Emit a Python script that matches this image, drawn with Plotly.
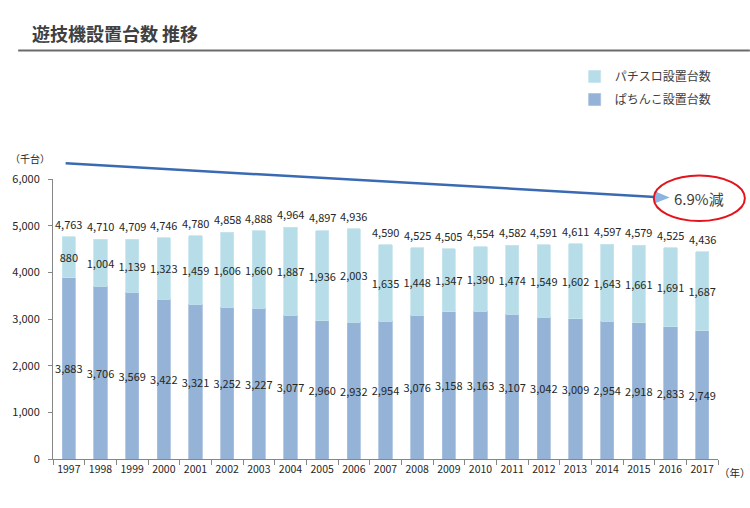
import plotly.graph_objects as go

years = [str(y) for y in range(1997, 2018)]
pachinko = [3883, 3706, 3569, 3422, 3321, 3252, 3227, 3077, 2960, 2932, 2954,
            3076, 3158, 3163, 3107, 3042, 3009, 2954, 2918, 2833, 2749]
pachislot = [880, 1004, 1139, 1323, 1459, 1606, 1660, 1887, 1936, 2003, 1635,
             1448, 1347, 1390, 1474, 1549, 1602, 1643, 1661, 1691, 1687]
totals = [4763, 4710, 4709, 4746, 4780, 4858, 4888, 4964, 4897, 4936, 4590,
          4525, 4505, 4554, 4582, 4591, 4611, 4597, 4579, 4525, 4436]
yticks = [0, 1000, 2000, 3000, 4000, 5000, 6000]

FONT = "Noto Sans CJK JP, Noto Sans, sans-serif"
TXT = "#262626"
C_PACHINKO = "#95b3d7"
C_PACHISLOT = "#b7dee8"

W, H = 750, 508
ML, MR, MT, MB = 50, 32, 179, 49
PW, PH = W - ML - MR, H - MT - MB


def px(x):
    return (x - ML) / PW


def py(y):
    return (H - MB - y) / PH


fmt = lambda v: f"{v:,}"

fig = go.Figure()
fig.add_trace(go.Bar(
    x=years, y=pachinko, name="ぱちんこ設置台数",
    marker=dict(color=C_PACHINKO, line=dict(color="#a9c1df", width=0.8)),
    text=[fmt(v) for v in pachinko], textposition="inside",
    insidetextanchor="middle", constraintext="none", textangle=0,
    textfont=dict(family=FONT, size=11, color=TXT),
    legendgroup="a", legendrank=2,
))
fig.add_trace(go.Bar(
    x=years, y=pachislot, name="パチスロ設置台数",
    marker=dict(color=C_PACHISLOT, line=dict(color="#c6e5ee", width=0.8)),
    text=[fmt(v) for v in pachislot], textposition="inside",
    insidetextanchor="middle", constraintext="none", textangle=0,
    textfont=dict(family=FONT, size=11, color=TXT),
    legendgroup="b", legendrank=1,
))

shapes = [
    # title underline
    dict(type="line", xref="paper", yref="paper", x0=px(15), x1=px(750),
         y0=py(50.5), y1=py(50.5), line=dict(color="#6b6b6b", width=2)),
    # trend line
    dict(type="line", xref="paper", yref="paper", x0=px(62.7), y0=py(163.3),
         x1=px(655), y1=py(196.9), line=dict(color="#3a6ab3", width=2.5)),
    # arrow head
    dict(type="path", xref="paper", yref="paper",
         path=f"M {px(654)},{py(191)} L {px(669.5)},{py(197.5)} L {px(654)},{py(203.5)} Z",
         fillcolor="#8db3e2", line=dict(width=0)),
    # red ellipse
    dict(type="circle", xref="paper", yref="paper", x0=px(653.5), x1=px(745),
         y0=py(221), y1=py(175.5), line=dict(color="#e3141b", width=2)),
]

annotations = [
    dict(text="<b>遊技機設置台数 推移</b>", xref="paper", yref="paper",
         x=px(27), y=py(33), xanchor="left", yanchor="middle", showarrow=False,
         font=dict(family=FONT, size=18, color="#404040")),
    dict(text="6.9%減", xref="paper", yref="paper", x=px(699), y=py(198),
         xanchor="center", yanchor="middle", showarrow=False,
         font=dict(family=FONT, size=15, color="#404040")),
    dict(text="（千台）", xref="paper", yref="paper", x=px(27), y=py(158),
         xanchor="center", yanchor="middle", showarrow=False,
         font=dict(family=FONT, size=10, color=TXT)),
    dict(text="（年）", xref="paper", yref="paper", x=px(735), y=py(472),
         xanchor="center", yanchor="middle", showarrow=False,
         font=dict(family=FONT, size=10.5, color=TXT)),
]
# total labels above each stacked bar (x given as category index)
for i, tot in enumerate(totals):
    annotations.append(dict(
        x=i, y=tot, xref="x", yref="y", text=fmt(tot), showarrow=False,
        xanchor="center", yanchor="middle", yshift=13,
        font=dict(family=FONT, size=11, color=TXT)))

fig.update_layout(
    width=W, height=H,
    margin=dict(l=ML, r=MR, t=MT, b=MB, pad=0),
    paper_bgcolor="white", plot_bgcolor="white",
    barmode="stack", bargap=0.585,
    font=dict(family=FONT, size=11, color=TXT),
    showlegend=True,
    legend=dict(x=px(574), y=py(62), xanchor="left", yanchor="top",
                traceorder="grouped", tracegroupgap=4,
                font=dict(family=FONT, size=12, color="#404040"),
                bgcolor="rgba(0,0,0,0)", itemwidth=30),
    shapes=shapes, annotations=annotations,
    xaxis=dict(type="category", categoryorder="array", categoryarray=years,
               range=[-0.5, len(years) - 0.5],
               showline=True, linecolor="#868686", linewidth=1,
               ticks="outside", tickson="boundaries", ticklen=5,
               tickcolor="#868686", showgrid=False, tickangle=0,
               tickfont=dict(family=FONT, size=10.5, color=TXT)),
    yaxis=dict(range=[0, 6000], tickvals=yticks,
               ticktext=[fmt(v) for v in yticks], showline=True,
               linecolor="#868686", linewidth=1, ticks="outside", ticklen=4,
               tickcolor="#868686", showgrid=False, zeroline=False,
               ticklabelstandoff=6,
               tickfont=dict(family=FONT, size=11, color=TXT)),
)

fig.write_html("out.html", config={"displayModeBar": False},
               post_script="document.body.style.margin='0';document.body.style.padding='0';")
